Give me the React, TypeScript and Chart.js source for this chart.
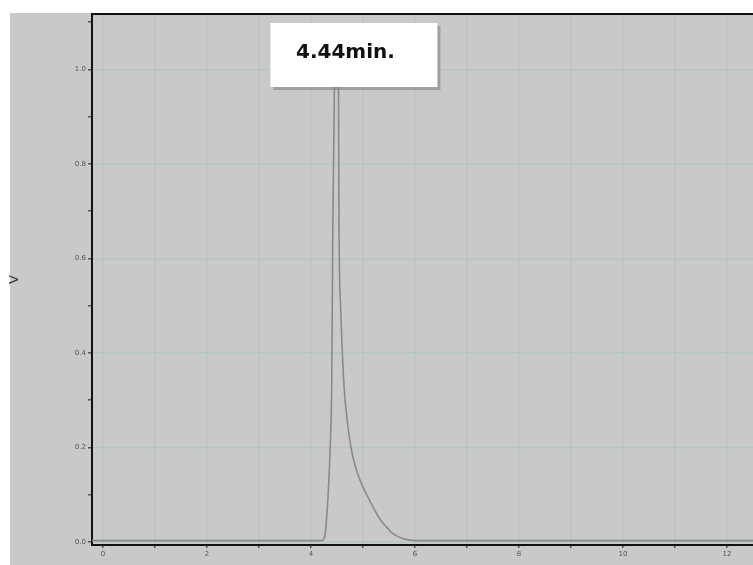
import React, { useEffect, useRef } from "react";
import { Chart, registerables } from "chart.js";

Chart.register(...registerables);

// Retention time (min) and detector signal (V)
const times = [
  -0.21, 1, 2, 3, 4, 4.2, 4.23, 4.27, 4.3, 4.33, 4.37, 4.4, 4.42, 4.45, 4.49,
  4.53, 4.54, 4.57, 4.6, 4.62, 4.65, 4.7, 4.75, 4.8, 4.85, 4.9, 4.95, 5.0, 5.1,
  5.2, 5.25, 5.3, 5.4, 5.5, 5.55, 5.65, 5.75, 5.85, 6.0, 8, 10, 12.5,
];
const volts = [
  0.003, 0.003, 0.003, 0.003, 0.003, 0.003, 0.004, 0.015, 0.05, 0.1, 0.2,
  0.34, 0.66, 0.95, 1.08, 0.95, 0.66, 0.5, 0.41, 0.36, 0.31, 0.255, 0.213,
  0.183, 0.162, 0.144, 0.129, 0.116, 0.094, 0.073, 0.063, 0.053, 0.038, 0.026,
  0.02, 0.013, 0.008, 0.005, 0.003, 0.003, 0.003, 0.003,
];

const xTickValues = [0, 1, 2, 3, 4, 5, 6, 7, 8, 9, 10, 11, 12];
const yTickValues = [0, 0.1, 0.2, 0.3, 0.4, 0.5, 0.6, 0.7, 0.8, 0.9, 1.0, 1.1];

const peakTime = 4.49;
const peakLabel = "4.44min.";
const yTitle = "V";

const GRID = "rgba(170,196,202,0.6)";

export default function App() {
  const ref = useRef<HTMLCanvasElement | null>(null);

  useEffect(() => {
    if (!ref.current) return;
    const bgPlugin = {
      id: "bg",
      beforeDraw(chart: any) {
        const c = chart.ctx;
        c.save();
        c.fillStyle = "#ffffff";
        c.fillRect(0, 0, chart.width, chart.height);
        c.fillStyle = "#c9c9c9";
        c.fillRect(10, 13, chart.width - 10, chart.height - 13);
        c.restore();
      },
      afterDraw(chart: any) {
        const c = chart.ctx;
        const a = chart.chartArea;
        c.save();
        c.strokeStyle = "#111";
        c.lineWidth = 2;
        c.beginPath();
        c.moveTo(a.left - 1, a.top);
        c.lineTo(a.right, a.top);
        c.stroke();
        // annotation box
        const px = chart.scales.x.getPixelForValue(peakTime);
        const bx = px - 66;
        const by = 23;
        const bw = 167;
        const bh = 64;
        c.fillStyle = "rgba(120,120,120,0.5)";
        c.fillRect(bx + 3, by + 3, bw, bh);
        c.fillStyle = "#ffffff";
        c.fillRect(bx, by, bw, bh);
        c.fillStyle = "#111";
        c.font = 'bold 20px "DejaVu Sans"';
        c.textAlign = "center";
        c.textBaseline = "middle";
        c.fillText(peakLabel, bx + 75, by + 30);
        c.restore();
      },
    };

    const chart = new Chart(ref.current, {
      type: "line",
      data: {
        datasets: [
          {
            data: times.map((t, i) => ({ x: t, y: volts[i] })),
            borderColor: "#8a8a8a",
            borderWidth: 1.6,
            pointRadius: 0,
            cubicInterpolationMode: "monotone",
            fill: false,
          },
        ],
      },
      options: {
        animation: false,
        responsive: false,
        devicePixelRatio: 1,
        layout: { padding: { top: 14, left: 0, right: 0, bottom: 0 } },
        plugins: { legend: { display: false }, tooltip: { enabled: false } },
        scales: {
          x: {
            type: "linear",
            min: -0.21,
            max: 12.5,
            afterBuildTicks: (s: any) => {
              s.ticks = xTickValues.map((v) => ({ value: v }));
            },
            afterFit: (s: any) => {
              s.height = 20;
            },
            ticks: {
              autoSkip: false,
              maxRotation: 0,
              padding: 2,
              color: "#555",
              font: { family: "DejaVu Sans", size: 7 },
              callback: (v: any) => (Number(v) % 2 === 0 ? String(v) : ""),
            },
            grid: {
              color: GRID,
              lineWidth: 1.5,
              tickColor: "#555",
              tickLength: 3,
            },
            border: { color: "#111", width: 2 },
          },
          y: {
            type: "linear",
            min: -0.0063,
            max: 1.117,
            afterBuildTicks: (s: any) => {
              s.ticks = yTickValues.map((v) => ({ value: v }));
            },
            afterFit: (s: any) => {
              s.width = 92;
            },
            ticks: {
              autoSkip: false,
              padding: 2,
              color: "#555",
              font: { family: "DejaVu Sans", size: 7 },
              callback: (v: any) =>
                Math.round(Number(v) * 10) % 2 === 0 ? Number(v).toFixed(1) : "",
            },
            grid: {
              color: (ctx: any) =>
                ctx.tick && Math.round(ctx.tick.value * 10) % 2 === 0
                  ? GRID
                  : "rgba(0,0,0,0)",
              lineWidth: 1.5,
              tickColor: "#555",
              tickLength: 4,
            },
            border: { color: "#111", width: 2 },
            title: {
              display: true,
              text: yTitle,
              color: "#333",
              font: { family: "DejaVu Sans", size: 13 },
              padding: { top: 7, bottom: 0 },
            },
          },
        },
      },
      plugins: [bgPlugin],
    });
    return () => chart.destroy();
  }, []);

  return (
    <div
      style={{
        position: "fixed",
        left: 0,
        top: 0,
        width: 753,
        height: 565,
        background: "#fff",
      }}
    >
      <canvas ref={ref} width={753} height={565} style={{ display: "block" }} />
    </div>
  );
}
